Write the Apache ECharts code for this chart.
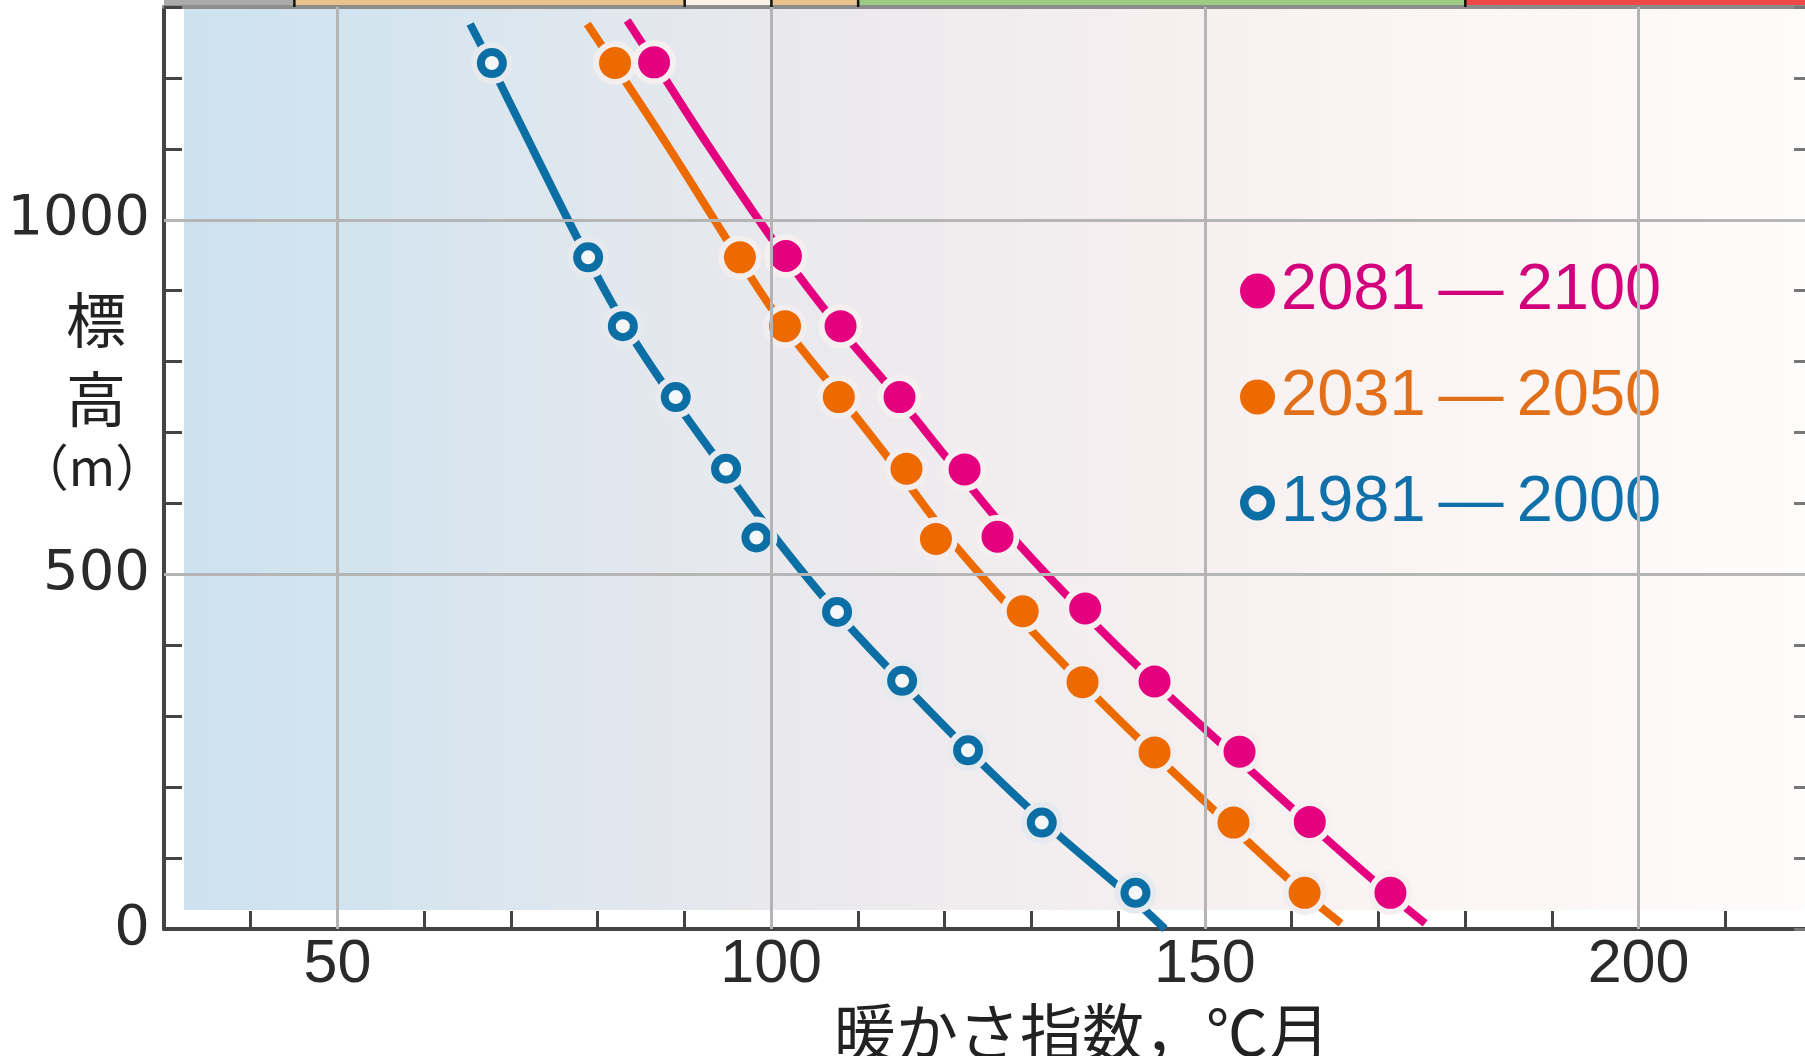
<!DOCTYPE html>
<html><head><meta charset="utf-8">
<script src="https://cdn.jsdelivr.net/npm/echarts@6/dist/echarts.min.js"></script>
<style>html,body{margin:0;padding:0;background:#fff}#c{width:1805px;height:1056px}</style>
</head><body><div id="c"></div>
<script>
// ---- data ----
const periods = ['2081\u2009—\u20092100', '2031\u2009—\u20092050', '1981\u2009—\u20092000'];
// observed points: [warmth index (°C·month), altitude (m)]
const pts1981 = [[67.8,1221],[78.9,947],[82.9,850],[89.0,750],[94.8,649],[98.3,552],[107.6,447],[115.1,350],[122.7,252],[131.2,150],[142.0,51]];
const pts2031 = [[82.0,1221],[96.4,947],[101.6,850],[107.8,750],[115.6,649],[119.0,550],[129.0,448],[135.9,348],[144.2,249],[153.3,150],[161.5,51]];
const pts2081 = [[86.5,1222],[101.7,949],[108.0,850],[114.8,750],[122.3,648],[126.1,553],[136.2,452],[144.2,349],[154.0,250],[162.1,151],[171.4,51]];
// fitted curves
const curve1981 = [[65.3,1276],[67.6,1221],[72.5,1100],[78.8,947],[83.2,850],[88.6,750],[94.5,650],[100.6,550],[107.3,450],[114.9,350],[122.9,250],[131.5,150],[141.0,50],[145.4,0]];
const curve2031 = [[78.8,1276],[81.8,1221],[88.3,1100],[96.2,947],[101.5,850],[108.0,750],[114.4,650],[120.6,550],[127.8,450],[135.6,350],[143.9,250],[152.6,150],[161.5,50],[165.7,8]];
const curve2081 = [[83.4,1281],[86.6,1221],[93.0,1100],[101.5,949],[107.7,850],[114.6,750],[121.2,650],[128.0,550],[135.7,450],[144.0,350],[152.9,250],[161.9,150],[171.2,50],[175.4,8]];
// zone strip along the top (warmth index ranges)
const zoneFrom = [30, 45, 90, 100, 110, 180];
const zoneTo   = [45, 90, 100, 110, 180, 220];
// tick labels / grid lines
const xLabels = [50, 100, 150, 200];
const yLabels = [0, 500, 1000];

// ---- styles ----
const C = { magenta: '#e4007f', orange: '#ec6a00', blue: '#0b6fa5' };
const zoneColors = ['#aaaaaa', '#e8c48c', '#f8f1e6', '#e8c48c', '#9dcb84', '#ef4646'];
const ringPath = 'path://M0,18.5a18.5,18.5 0 1,0 37,0a18.5,18.5 0 1,0 -37,0Z M9,18.5a9.5,9.5 0 1,1 19,0a9.5,9.5 0 1,1 -19,0Z';

const chart = echarts.init(document.getElementById('c'), null, { renderer: 'canvas' });

const zoneData = zoneFrom.map((f, i) => [f, zoneTo[i], 1300, i]);

const option = {
  backgroundColor: '#ffffff',
  animation: false,
  grid: { left: 164, right: -7, top: 7, bottom: 127, outerBoundsMode: 'none', containLabel: false },
  xAxis: [{
    type: 'value', min: 30, max: 220, interval: 10, position: 'bottom',
    axisLine: { show: true, onZero: false, lineStyle: { color: '#444', width: 4 } },
    axisTick: { show: true, inside: true, length: 18, lineStyle: { color: '#444', width: 3 } },
    axisLabel: { formatter: v => xLabels.includes(v) ? String(v) : '', fontSize: 61, fontFamily: 'Liberation Sans', color: '#2a2a2a', margin: 6 },
    splitLine: { show: false }
  }, {
    type: 'value', min: 30, max: 220, interval: 10, position: 'top',
    axisLine: { show: true, onZero: false, lineStyle: { color: '#8d8d8d', width: 4 } },
    axisTick: { show: false }, axisLabel: { show: false }, splitLine: { show: false }
  }],
  yAxis: [{
    type: 'value', min: 0, max: 1300, interval: 100, position: 'left',
    axisLine: { show: true, onZero: false, lineStyle: { color: '#444', width: 4 } },
    axisTick: { show: true, inside: true, length: 18, lineStyle: { color: '#444', width: 3 } },
    axisLabel: { formatter: v => yLabels.includes(v) ? String(v) : '', fontSize: 56, fontFamily: 'DejaVu Sans', color: '#2a2a2a', margin: 14 },
    splitLine: { show: false }
  }, {
    type: 'value', min: 0, max: 1300, interval: 100, position: 'right',
    axisLine: { show: true, onZero: false, lineStyle: { color: '#777', width: 3 } },
    axisTick: { show: true, inside: true, length: 18, lineStyle: { color: '#777', width: 3 } },
    axisLabel: { show: false }, splitLine: { show: false }
  }],
  legend: {
    orient: 'vertical', left: 1235, top: 251, itemWidth: 35, itemHeight: 35, itemGap: 36,
    icon: 'circle', selectedMode: false,
    textStyle: { fontSize: 65, lineHeight: 70, fontFamily: 'Liberation Sans', padding: [0, 0, 0, 1] },
    data: [
      { name: periods[0], textStyle: { color: '#d2007b' }, itemStyle: { color: C.magenta, borderWidth: 0, opacity: 1 } },
      { name: periods[1], textStyle: { color: '#e2701a' }, itemStyle: { color: C.orange, borderWidth: 0, opacity: 1 } },
      { name: periods[2], icon: ringPath, textStyle: { color: '#1070aa' }, itemStyle: { color: C.blue, borderWidth: 0, opacity: 1 } }
    ]
  },
  graphic: {
    elements: [
      {
        type: 'rect', z: -100, silent: true,
        shape: { x: 184, y: 9, width: 1621, height: 901 },
        style: {
          fill: new echarts.graphic.LinearGradient(0, 0, 1, 0, [
            { offset: 0, color: '#cde2ef' }, { offset: 0.1, color: '#d2e4ef' },
            { offset: 0.24, color: '#dfe7ee' }, { offset: 0.38, color: '#eae9ed' },
            { offset: 0.6, color: '#f6eff0' }, { offset: 0.81, color: '#fcf6f5' },
            { offset: 1, color: '#fefcfb' }
          ])
        }
      },
      { type: 'text', x: 96, y: 320, silent: true, style: { text: '標', font: '60px "Noto Sans CJK JP"', fill: '#222', align: 'center', verticalAlign: 'middle' } },
      { type: 'text', x: 96, y: 399, silent: true, style: { text: '高', font: '60px "Noto Sans CJK JP"', fill: '#222', align: 'center', verticalAlign: 'middle' } },
      { type: 'text', x: 92, y: 467, silent: true, style: { text: '（m）', font: '50px "Noto Sans CJK JP"', fill: '#222', align: 'center', verticalAlign: 'middle' } },
      { type: 'text', x: 1082, y: 1032, silent: true, style: { text: '暖かさ指数，℃月', font: '62px "Noto Sans CJK JP"', fill: '#222', align: 'center', verticalAlign: 'middle' } }
    ]
  },
  series: [
    {
      name: 'grid', type: 'line', data: [], z: 1, silent: true,
      markLine: {
        silent: true, symbol: 'none', label: { show: false },
        lineStyle: { color: '#b5b5b5', width: 3, type: 'solid' },
        data: xLabels.map(v => ({ xAxis: v })).concat(yLabels.filter(v => v > 0).map(v => ({ yAxis: v })))
      }
    },
    {
      name: 'zones', type: 'custom', clip: false, silent: true, z: 5,
      encode: { x: [0, 1], y: 2 },
      data: zoneData,
      renderItem: (params, api) => {
        const cs = params.coordSys;
        const x0 = api.coord([api.value(0), 1300])[0];
        const x1 = api.coord([api.value(1), 1300])[0];
        const idx = api.value(3);
        const children = [{ type: 'rect', shape: { x: x0, y: cs.y - 7, width: x1 - x0, height: 5 }, style: { fill: zoneColors[idx] } }];
        if (idx > 0) children.push({ type: 'rect', shape: { x: x0 - 1, y: cs.y - 7, width: 2.5, height: 7 }, style: { fill: '#111' } });
        return { type: 'group', children };
      }
    },
    { name: 'c1981', type: 'line', data: curve1981, smooth: 0.4, symbol: 'none', z: 2, lineStyle: { color: C.blue, width: 8 } },
    { name: 'c2031', type: 'line', data: curve2031, smooth: 0.4, symbol: 'none', z: 2, lineStyle: { color: C.orange, width: 8 } },
    { name: 'c2081', type: 'line', data: curve2081, smooth: 0.4, symbol: 'none', z: 2, lineStyle: { color: C.magenta, width: 8 } },
    { name: 'halo1981', type: 'scatter', data: pts1981, z: 3, symbol: 'circle', symbolSize: 42, itemStyle: { color: '#e6e9ee', opacity: 1 } },
    { name: periods[2], type: 'scatter', data: pts1981, z: 4, symbol: 'circle', symbolSize: 22, itemStyle: { color: '#f4f6f8', borderColor: C.blue, borderWidth: 8, opacity: 1 } },
    { name: periods[1], type: 'scatter', data: pts2031, z: 4, symbol: 'circle', symbolSize: 38, itemStyle: { color: C.orange, borderColor: '#f2edef', borderWidth: 6, opacity: 1 } },
    { name: periods[0], type: 'scatter', data: pts2081, z: 4, symbol: 'circle', symbolSize: 38, itemStyle: { color: C.magenta, borderColor: '#f5eff0', borderWidth: 6, opacity: 1 } }
  ]
};
chart.setOption(option);
</script>
</body></html>
